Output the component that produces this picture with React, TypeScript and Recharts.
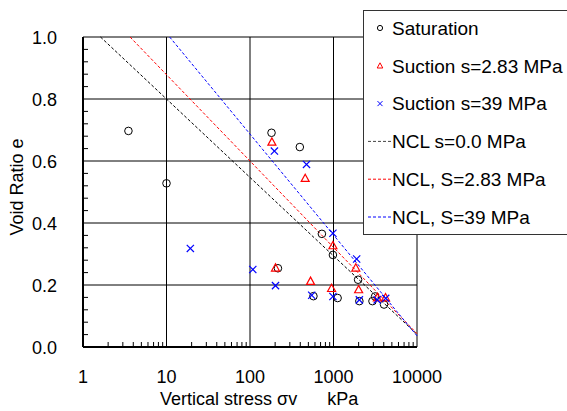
import React from "react";
import {
  ReferenceLine,
  Scatter,
  ScatterChart,
  XAxis,
  YAxis,
} from "recharts";

// Oedometer results: void ratio vs vertical stress (log axis), three
// suction states plus their normal compression lines.

const FONT = "'Liberation Sans', Arial, Helvetica, sans-serif";

const saturation = [
  { x: 3.5, y: 0.697 },
  { x: 10, y: 0.528 },
  { x: 181, y: 0.691 },
  { x: 395, y: 0.645 },
  { x: 216, y: 0.254 },
  { x: 726, y: 0.365 },
  { x: 984, y: 0.297 },
  { x: 1970, y: 0.217 },
  { x: 575, y: 0.164 },
  { x: 1120, y: 0.158 },
  { x: 2040, y: 0.148 },
  { x: 2930, y: 0.148 },
  { x: 3150, y: 0.163 },
  { x: 4030, y: 0.137 },
];

const suction283 = [
  { x: 183, y: 0.66 },
  { x: 458, y: 0.543 },
  { x: 202, y: 0.254 },
  { x: 984, y: 0.326 },
  { x: 1850, y: 0.254 },
  { x: 531, y: 0.211 },
  { x: 948, y: 0.188 },
  { x: 2000, y: 0.184 },
  { x: 3350, y: 0.158 },
  { x: 4200, y: 0.158 },
];

const suction39 = [
  { x: 196, y: 0.632 },
  { x: 475, y: 0.589 },
  { x: 19.3, y: 0.318 },
  { x: 108, y: 0.25 },
  { x: 202, y: 0.198 },
  { x: 984, y: 0.367 },
  { x: 1893, y: 0.284 },
  { x: 548, y: 0.167 },
  { x: 984, y: 0.163 },
  { x: 2040, y: 0.152 },
  { x: 3340, y: 0.152 },
  { x: 4220, y: 0.157 },
];

// NCL end points (top border -> right border)
const nclS0 = [
  { x: 1.62, y: 1.0 },
  { x: 10000, y: 0.041 },
];
const nclS283 = [
  { x: 3.66, y: 1.0 },
  { x: 10000, y: 0.043 },
];
const nclS39 = [
  { x: 10.9, y: 1.0 },
  { x: 10000, y: 0.036 },
];

const xMajor = [1, 10, 100, 1000, 10000];
const xMajorLabels = ["1", "10", "100", "1000", "10000"];
const xMinor = [
  2, 3, 4, 5, 6, 7, 8, 9,
  20, 30, 40, 50, 60, 70, 80, 90,
  200, 300, 400, 500, 600, 700, 800, 900,
  2000, 3000, 4000, 5000, 6000, 7000, 8000, 9000,
];
const yMajor = [0, 0.2, 0.4, 0.6, 0.8, 1.0];
const yMajorLabels = ["0.0", "0.2", "0.4", "0.6", "0.8", "1.0"];
const yMinor = [
  0.04, 0.08, 0.12, 0.16,
  0.24, 0.28, 0.32, 0.36,
  0.44, 0.48, 0.52, 0.56,
  0.64, 0.68, 0.72, 0.76,
  0.84, 0.88, 0.92, 0.96,
];

// minor tick anchors sit on the axes
const xMinorPts = xMinor.map((v) => ({ x: v, y: 0 }));
const yMinorPts = yMinor.map((v) => ({ x: 1, y: v }));

const legendItems = [
  { label: "Saturation", kind: "circle", color: "#000" },
  { label: "Suction s=2.83 MPa", kind: "triangle", color: "#ff0000" },
  { label: "Suction s=39 MPa", kind: "cross", color: "#0000ff" },
  { label: "NCL s=0.0 MPa", kind: "line", color: "#444" },
  { label: "NCL, S=2.83 MPa", kind: "line", color: "#ff0000" },
  { label: "NCL, S=39 MPa", kind: "line", color: "#0000ff" },
];

const idxOf = (list: number[], v: number) => list.findIndex((m) => Math.abs(m - v) < 1e-9);

function CircleMark(props: any) {
  const { cx, cy } = props;
  return <circle cx={cx} cy={cy} r={3.8} fill="none" stroke="#000" strokeWidth={1} />;
}

function TriangleMark(props: any) {
  const { cx, cy } = props;
  return (
    <polygon
      points={`${cx},${cy - 4.5} ${cx - 4},${cy + 2.8} ${cx + 4},${cy + 2.8}`}
      fill="none"
      stroke="#ff0000"
      strokeWidth={1.2}
    />
  );
}

function CrossMark(props: any) {
  const { cx, cy } = props;
  const d = 3.6;
  return (
    <g stroke="#0000ff" strokeWidth={1.2}>
      <line x1={cx - d} y1={cy - d} x2={cx + d} y2={cy + d} />
      <line x1={cx - d} y1={cy + d} x2={cx + d} y2={cy - d} />
    </g>
  );
}

function XMinorTick(props: any) {
  const { cx, cy } = props;
  return <line x1={cx} x2={cx} y1={cy} y2={cy - 5} stroke="#000" strokeWidth={1} />;
}

function YMinorTick(props: any) {
  const { cx, cy } = props;
  return <line x1={cx} x2={cx + 5} y1={cy} y2={cy} stroke="#000" strokeWidth={1} />;
}

const NoMark = () => <g />;

function XTick(props: any) {
  const { x, y, payload } = props;
  const i = idxOf(xMajor, payload.value);
  if (i < 0) return <g />;
  return (
    <text x={x} y={y + 36} textAnchor="middle" fontSize={18} fontFamily={FONT} fill="#000">
      {xMajorLabels[i]}
    </text>
  );
}

function YTick(props: any) {
  const { x, y, payload } = props;
  const i = idxOf(yMajor, payload.value);
  if (i < 0) return <g />;
  return (
    <text x={x - 26} y={y + 6.5} textAnchor="end" fontSize={18} fontFamily={FONT} fill="#000">
      {yMajorLabels[i]}
    </text>
  );
}

function Legend() {
  return (
    <svg width={210} height={226} style={{ position: "absolute", left: 363, top: 10 }}>
      <rect x={0.5} y={0.5} width={220} height={224} fill="#fff" stroke="#333" strokeWidth={1} />
      {legendItems.map((it, i) => {
        const cy = 18 + i * 37.8;
        let mark: React.ReactNode = null;
        if (it.kind === "circle") {
          mark = <circle cx={17} cy={cy} r={2.6} fill="none" stroke={it.color} strokeWidth={1} />;
        } else if (it.kind === "triangle") {
          mark = (
            <polygon
              points={`17,${cy - 3} 14.2,${cy + 2.2} 19.8,${cy + 2.2}`}
              fill="none"
              stroke={it.color}
              strokeWidth={1}
            />
          );
        } else if (it.kind === "cross") {
          mark = (
            <g stroke={it.color} strokeWidth={1}>
              <line x1={14.5} y1={cy - 2.5} x2={19.5} y2={cy + 2.5} />
              <line x1={14.5} y1={cy + 2.5} x2={19.5} y2={cy - 2.5} />
            </g>
          );
        } else {
          mark = (
            <line x1={5} x2={28} y1={cy} y2={cy} stroke={it.color} strokeWidth={1} strokeDasharray="3 2" />
          );
        }
        return (
          <g key={it.label}>
            {mark}
            <text x={29} y={cy + 6.8} fontSize={19} fontFamily={FONT} fill="#000">
              {it.label}
            </text>
          </g>
        );
      })}
    </svg>
  );
}

export default function App() {
  return (
    <div
      style={{
        position: "absolute",
        left: 0,
        top: 0,
        width: 567,
        height: 411,
        overflow: "hidden",
        background: "#fff",
      }}
    >
      <ScatterChart width={567} height={411} margin={{ top: 37, right: 150, bottom: 0, left: 0 }}>
        <XAxis
          type="number"
          dataKey="x"
          scale="log"
          domain={[1, 10000]}
          ticks={xMajor}
          interval={0}
          tickSize={0}
          tickMargin={0}
          tick={<XTick />}
          axisLine={{ stroke: "#000", strokeWidth: 2 }}
          height={64}
          label={() => (
            <text x={160} y={405} fontSize={18} fontFamily={FONT} fill="#000">
              {"Vertical stress σv\u00A0\u00A0\u00A0\u00A0\u00A0\u00A0kPa"}
            </text>
          )}
        />
        <YAxis
          type="number"
          dataKey="y"
          domain={[0, 1]}
          ticks={yMajor}
          interval={0}
          tickSize={0}
          tickMargin={0}
          tick={<YTick />}
          axisLine={{ stroke: "#000", strokeWidth: 2 }}
          width={83}
          label={() => (
            <text
              x={23}
              y={187}
              transform="rotate(-90, 23, 187)"
              textAnchor="middle"
              fontSize={18}
              fontFamily={FONT}
              fill="#000"
            >
              Void Ratio e
            </text>
          )}
        />
        {xMajor.slice(1).map((v) => (
          <ReferenceLine key={`gx${v}`} x={v} stroke="#000" strokeWidth={1} />
        ))}
        {yMajor.slice(1).map((v) => (
          <ReferenceLine key={`gy${v}`} y={v} stroke="#000" strokeWidth={1} />
        ))}
        <Scatter data={xMinorPts} shape={<XMinorTick />} isAnimationActive={false} />
        <Scatter data={yMinorPts} shape={<YMinorTick />} isAnimationActive={false} />
        <Scatter
          data={nclS0}
          line={{ stroke: "#000", strokeWidth: 1, strokeDasharray: "3 2" }}
          shape={<NoMark />}
          isAnimationActive={false}
        />
        <Scatter
          data={nclS283}
          line={{ stroke: "#ff0000", strokeWidth: 1, strokeDasharray: "3 2" }}
          shape={<NoMark />}
          isAnimationActive={false}
        />
        <Scatter
          data={nclS39}
          line={{ stroke: "#0000ff", strokeWidth: 1, strokeDasharray: "3 2" }}
          shape={<NoMark />}
          isAnimationActive={false}
        />
        <Scatter data={saturation} shape={<CircleMark />} isAnimationActive={false} />
        <Scatter data={suction283} shape={<TriangleMark />} isAnimationActive={false} />
        <Scatter data={suction39} shape={<CrossMark />} isAnimationActive={false} />
      </ScatterChart>
      <Legend />
    </div>
  );
}
